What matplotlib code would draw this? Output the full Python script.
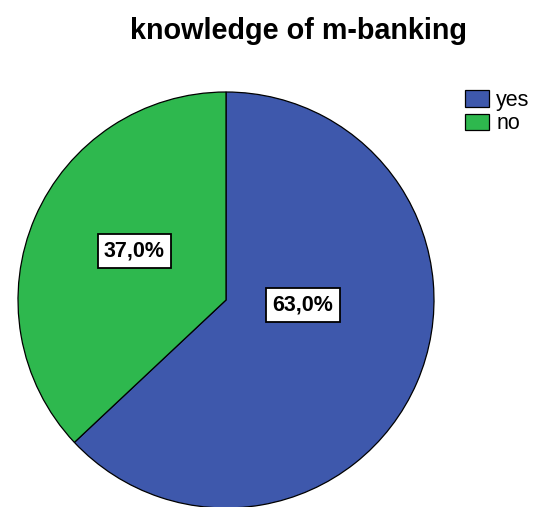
import matplotlib.pyplot as plt

plt.rcParams['font.family'] = ['Liberation Sans', 'DejaVu Sans']

labels = ['yes', 'no']
shares = [63.0, 37.0]
colors = ['#3e58ac', '#2eb84e']
title = 'knowledge of m-banking'

W, H = 533, 507
fig = plt.figure(figsize=(W / 100, H / 100), dpi=100)
ax = fig.add_axes([0, 0, 1, 1])

cx, cy, r = 226, 207, 208
wedges, _, autotexts = ax.pie(
    shares, colors=colors, startangle=90, counterclock=False,
    center=(cx, cy), radius=r, frame=True,
    wedgeprops=dict(edgecolor='black', linewidth=0.9),
    autopct=lambda p: f'{p:.1f}%'.replace('.', ','),
)
ax.set_xlim(0, W)
ax.set_ylim(0, H)
ax.set_aspect('equal')
ax.axis('off')

# label placement relative to pie centre (fractions of radius)
offsets = [(0.37, -0.025), (-0.44, 0.235)]
for t, (dx, dy) in zip(autotexts, offsets):
    t.set_position((cx + dx * r, cy + dy * r))
    t.set_fontsize(15.5)
    t.set_fontweight('bold')
    t.set_ha('center')
    t.set_va('center')
    t.set_bbox(dict(facecolor='white', edgecolor='black', linewidth=1.3, pad=4.5))

fig.text(0.56, 0.938, title, ha='center', va='center', fontsize=20.7, fontweight='bold')

ax.legend(wedges, labels, loc='upper left', bbox_to_anchor=(465 / W, 1 - 90 / H),
          bbox_transform=fig.transFigure, frameon=False, fontsize=15.5,
          handlelength=1.1, handleheight=0.78, handletextpad=0.35,
          labelspacing=0.1, borderpad=0, borderaxespad=0)

fig.savefig('out.png', dpi=100)
